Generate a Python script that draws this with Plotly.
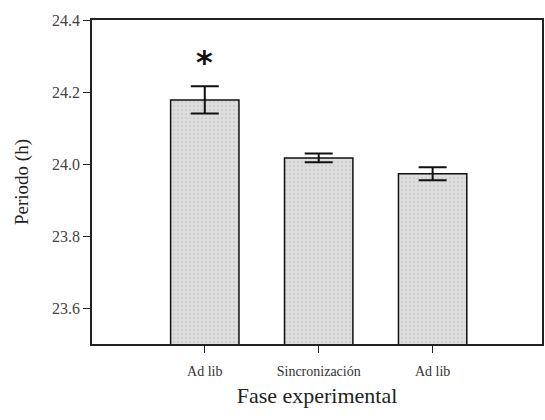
import plotly.graph_objects as go

categories = ["Ad lib", "Sincronización", "Ad lib "]
tick_labels = ["Ad lib", "Sincronización", "Ad lib"]
periodo = [24.178, 24.017, 23.973]
error = [0.038, 0.012, 0.018]
y_ticks = [23.6, 23.8, 24.0, 24.2, 24.4]

xpos = list(range(len(categories)))

fig = go.Figure()
fig.add_trace(go.Bar(
    x=xpos, y=periodo, width=0.6,
    marker=dict(color="#d9d9d9", line=dict(color="#111", width=1.5),
                pattern=dict(shape=".", fgcolor="#bdbdbd", bgcolor="#dedede", size=4, solidity=0.25)),
    error_y=dict(type="data", array=error, visible=True, color="#111", thickness=2, width=14),
))
fig.add_annotation(x=0, y=periodo[0] + error[0], text="<b>*</b>", showarrow=False,
                   yshift=24, font=dict(family="DejaVu Sans", size=32, color="#111"))

font_serif = "Liberation Serif"
fig.update_layout(
    width=545, height=420,
    margin=dict(l=92, r=1, t=20, b=76),
    paper_bgcolor="white", plot_bgcolor="white",
    showlegend=False,
    font=dict(family=font_serif, color="#333"),
)
fig.update_xaxes(
    range=[-0.99, 2.96], tickmode="array", tickvals=xpos, ticktext=tick_labels,
    ticks="outside", ticklen=7, tickwidth=1, tickcolor="#222",
    showline=True, linecolor="#222", linewidth=1.5, mirror=True,
    showgrid=False, zeroline=False, ticklabelstandoff=6,
    tickfont=dict(family=font_serif, size=14, color="#333"),
    title=dict(text="Fase experimental", font=dict(family=font_serif, size=22, color="#222"), standoff=10),
)
fig.update_yaxes(
    range=[23.5, 24.4], tickmode="array", tickvals=y_ticks,
    ticktext=[f"{v:.1f}" for v in y_ticks],
    ticks="outside", ticklen=7, tickwidth=1.2, tickcolor="#222",
    showline=True, linecolor="#222", linewidth=1.5, mirror=True,
    showgrid=False, zeroline=False,
    tickfont=dict(family=font_serif, size=16, color="#444"),
    title=dict(text="Periodo (h)", font=dict(family=font_serif, size=19, color="#222"), standoff=18),
)
fig.write_html("out.html")
